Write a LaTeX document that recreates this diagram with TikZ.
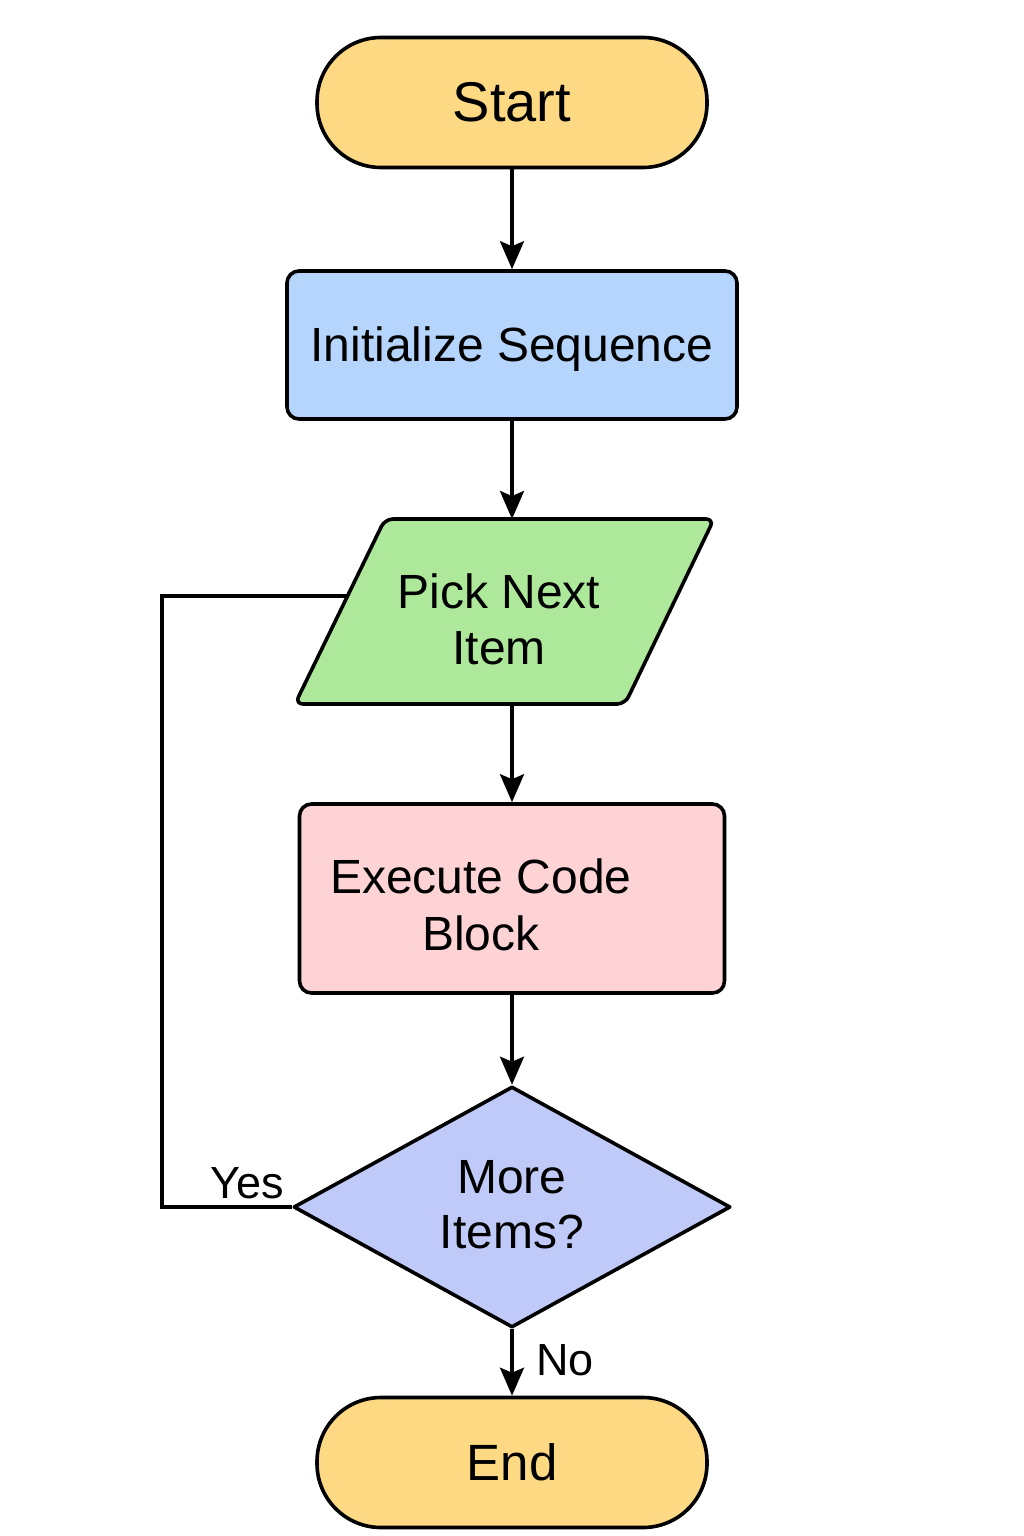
\documentclass[tikz,border=0pt]{standalone}
\usepackage{fontspec}
\setmainfont{Liberation Sans}
\usetikzlibrary{shapes.geometric,arrows.meta}
\definecolor{termfill}{RGB}{252,217,130}
\definecolor{initfill}{RGB}{181,213,252}
\definecolor{parafill}{RGB}{174,232,154}
\definecolor{execfill}{RGB}{253,211,214}
\definecolor{decfill}{RGB}{192,202,248}
\tikzset{
  box/.style={draw=black, line width=3.6pt, inner sep=0pt, align=center,
    font=\fontsize{48}{56}\selectfont},
  term/.style={box, fill=termfill, rounded corners=64pt, minimum width=390pt, minimum height=130pt},
  procbox/.style={box, rounded corners=12pt},
  txt/.style={inner sep=0pt, align=center},
  flow/.style={line width=3.4pt, -{Stealth[length=28pt,width=24pt,inset=5pt]}},
  loopline/.style={line width=3.4pt},
  lbl/.style={font=\fontsize{45}{50}\selectfont, inner sep=0pt}
}
\begin{document}
\begin{tikzpicture}[x=1pt,y=-1pt]
\useasboundingbox (0,0) rectangle (1024,1536);
% Start
\node[term, font=\fontsize{56}{60}\selectfont] (start) at (512,102.5) {Start};
% Initialize
\node[procbox, fill=initfill, minimum width=450pt, minimum height=148pt] (init) at (512,345) {};
\node[txt, font=\fontsize{48}{56}\selectfont] (inittext) at (512,349) {Initialize Sequence};
% Parallelogram
\draw[line width=3.6pt, fill=parafill, rounded corners=8pt, line join=round]
  (385,519) -- (714,519) -- (625,704) -- (295,704) -- cycle;
\coordinate (ptop) at (512,519);
\coordinate (pbot) at (512,704);
\coordinate (pleft) at (347,596);
\node[txt, font=\fontsize{48}{56}\selectfont] (pick) at (499,619) {Pick Next\\Item};
% Execute
\node[procbox, fill=execfill, minimum width=425pt, minimum height=189pt] (exec) at (512,898.5) {};
\node[txt, font=\fontsize{48}{57}\selectfont] (exectext) at (481,905) {Execute Code\\Block};
% Decision
\node[box, diamond, fill=decfill, minimum width=437pt, minimum height=241pt, line join=round] (dec) at (512,1207) {};
\node[txt, font=\fontsize{48}{55}\selectfont] (dectext) at (512,1205) {More\\Items?};
% End
\node[term, font=\fontsize{51}{56}\selectfont] (end) at (512,1462.5) {End};
% Connectors
\draw[flow] (start.south) -- (init.north);
\draw[flow] (init.south) -- (ptop);
\draw[flow] (pbot) -- (exec.north);
\draw[flow] (exec.south) -- (dec.north);
\draw[flow] (dec.south) -- (end.north);
\draw[loopline, line join=miter] (dec.west) -- (162,1207) -- (162,596) -- (pleft);
% Labels
\node[lbl, anchor=base] (yes) at (247,1198) {Yes};
\node[lbl, anchor=base] (no) at (565,1375) {No};
\end{tikzpicture}
\end{document}
